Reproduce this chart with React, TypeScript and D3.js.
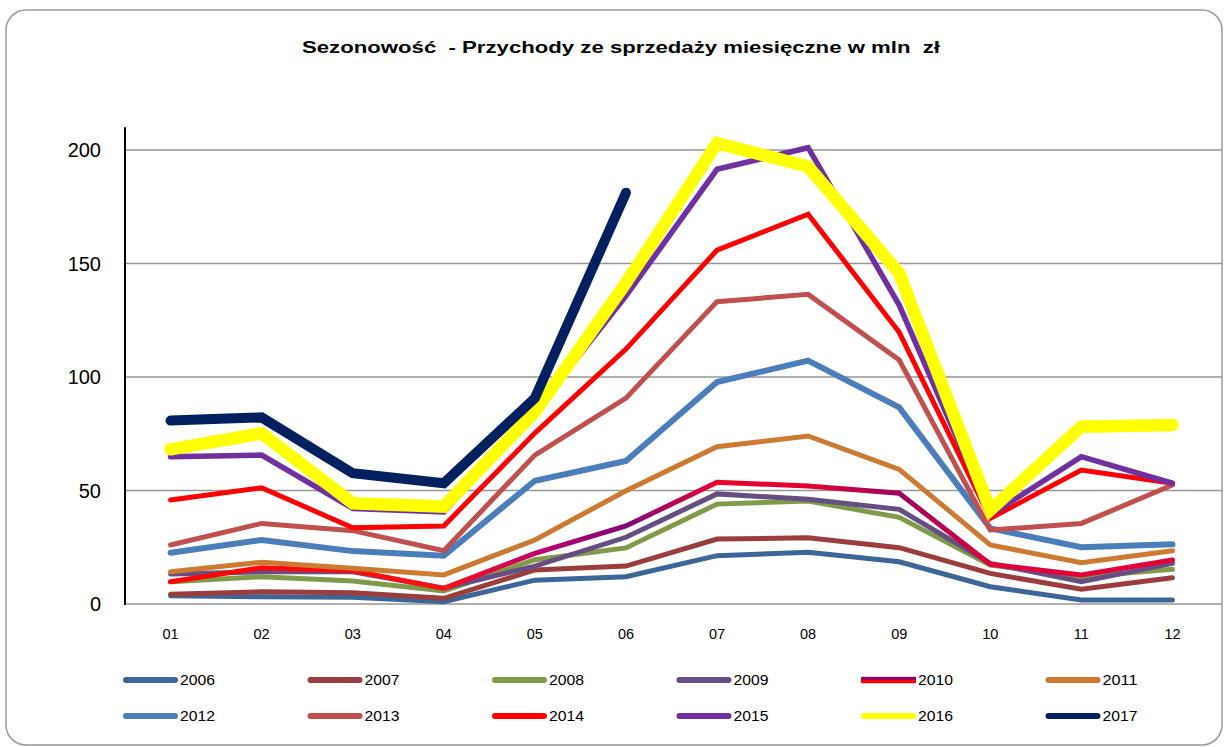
import React from "react";
import * as d3 from "d3";

const months = ["01", "02", "03", "04", "05", "06", "07", "08", "09", "10", "11", "12"];
const yTicks = [0, 50, 100, 150, 200];
const years = ["2006", "2007", "2008", "2009", "2010", "2011", "2012", "2013", "2014", "2015", "2016", "2017"];

const s2006 = [3.6, 3.2, 3, 1, 10.5, 12, 21.3, 22.8, 18.6, 7.6, 1.8, 1.8];
const s2007 = [4.3, 5.4, 5, 2.5, 15, 16.7, 28.6, 29.2, 24.8, 13.5, 6.5, 11.6];
const s2008 = [9.8, 12, 10.1, 5.7, 19.5, 24.7, 44, 45.4, 38.2, 17.2, 12, 15.3];
const s2009 = [13.2, 14.2, 14.2, 7, 16.7, 29.4, 48.5, 46.1, 41.7, 17.9, 9.8, 17.9];
const s2010 = [9.8, 16, 14.7, 6.9, 22.3, 34.4, 53.6, 52, 48.8, 17.5, 12.8, 19.4];
const s2011 = [14.2, 18.4, 15.7, 12.8, 28.2, 49.9, 69.3, 74, 59.3, 26, 18.2, 23.5];
const s2012 = [22.6, 28.2, 23.3, 21.3, 54.3, 63, 97.8, 107.2, 86.6, 33.3, 25, 26.3];
const s2013 = [26, 35.5, 32.3, 23.5, 65.6, 90.7, 133.2, 136.4, 107.5, 32.6, 35.5, 52.4];
const s2014 = [45.8, 51.2, 33.6, 34.4, 75.3, 112.3, 155.9, 171.7, 119.7, 37.7, 59, 53.2];
const s2015 = [64.9, 65.6, 42.1, 40.5, 84.6, 135.7, 191.5, 201, 131.7, 39.2, 64.9, 53.2];
const s2016 = [68.1, 75.2, 44.4, 42.9, 84.6, 141.4, 203, 192.7, 145.7, 41.4, 78.1, 78.9];
const s2017 = [80.8, 82.2, 57.6, 53.2, 90.7, 181.2];

const seriesValues = [s2006, s2007, s2008, s2009, s2010, s2011, s2012, s2013, s2014, s2015, s2016, s2017];
const colors = ["#3C6698", "#9B3D3D", "#7F9A48", "#664E83", "url(#g2010)", "#CC7A31", "#4A7EBB", "#C0504D", "#FF0000", "#7030A0", "#FFFF00", "#002060"];
const widths = [5, 5, 5, 5, 5, 5, 6, 5, 5, 5.5, 12.5, 10];

const W = 1227;
const H = 747;
const left = 125;
const right = 1218;
const x = d3.scaleBand<string>().domain(months).range([left, right]);
const y = d3.scaleLinear().domain([0, 210]).range([604, 127.3]);
const xc = (m: string) => (x(m) as number) + x.bandwidth() / 2;

const line = d3
  .line<number>()
  .x((_, i) => xc(months[i]))
  .y((v) => y(v));

// gradient stops for 2010 line (purple/red blend by month)
const g2010Stops: [string, string][] = [
  ["01", "#FF0000"], ["04", "#FF1010"], ["05", "#C0006A"], ["06", "#82007E"],
  ["07", "#E80030"], ["08", "#E00030"], ["09", "#9A0060"], ["10", "#E0003A"], ["12", "#E0003A"],
];

export default function App() {
  const legendCols = [123, 307.5, 492, 676.5, 861, 1045.5];
  const legendRows = [680, 716];
  return (
    <svg
      width={W}
      height={H}
      style={{ position: "absolute", left: 0, top: 0, background: "#fff" }}
      fontFamily="Liberation Sans, Arial, sans-serif"
    >
      <defs>
        <linearGradient id="g2010" gradientUnits="userSpaceOnUse" x1={0} y1={0} x2={W} y2={0}>
          {g2010Stops.map(([m, c]) => (
            <stop key={m} offset={xc(m) / W} stopColor={c} />
          ))}
        </linearGradient>
      </defs>
      <rect x={6} y={10} width={1216} height={735} rx={20} ry={20} fill="#fff" stroke="#9A9A9A" strokeWidth={1.5} />
      <text
        x={621}
        y={53}
        textAnchor="middle"
        fontWeight="bold"
        fontSize={17}
        textLength={638}
        lengthAdjust="spacingAndGlyphs"
        fill="#000"
        style={{ whiteSpace: "pre" }}
      >
        {"Sezonowość  - Przychody ze sprzedaży miesięczne w mln  zł"}
      </text>

      {yTicks.map((t) => (
        <g key={t}>
          <line x1={left} x2={1222} y1={y(t)} y2={y(t)} stroke="#969696" strokeWidth={1.6} />
          <text x={101} y={y(t) + 7} textAnchor="end" fontSize={20} fill="#000">
            {t}
          </text>
        </g>
      ))}
      <line x1={left} x2={left} y1={y(210)} y2={y(0) + 1} stroke="#000" strokeWidth={2} />

      {months.map((m) => (
        <text key={m} x={xc(m)} y={639} textAnchor="middle" fontSize={14.5} fill="#000">
          {m}
        </text>
      ))}

      {seriesValues.map((vals, i) => (
        <path
          key={years[i]}
          d={line(vals) || ""}
          fill="none"
          stroke={colors[i]}
          strokeWidth={widths[i]}
          strokeLinecap="round"
          strokeLinejoin="miter"
        />
      ))}

      {years.map((yr, i) => {
        const cx = legendCols[i % 6];
        const cy = legendRows[Math.floor(i / 6)];
        return (
          <g key={yr}>
            {i === 4 ? (
              <g>
                <rect x={cx} y={cy - 4} width={55} height={8} rx={2} fill="#FFC8C8" />
                <rect x={cx} y={cy - 3} width={55} height={3} fill="#8B006E" />
                <rect x={cx} y={cy} width={55} height={3} fill="#FF0000" />
              </g>
            ) : (
              <line
                x1={cx + 3}
                x2={cx + 52}
                y1={cy}
                y2={cy}
                stroke={colors[i]}
                strokeWidth={6}
                strokeLinecap="round"
              />
            )}
            <text x={cx + 57} y={cy + 5} fontSize={14} fill="#000" textLength={35} lengthAdjust="spacingAndGlyphs">
              {yr}
            </text>
          </g>
        );
      })}
    </svg>
  );
}
